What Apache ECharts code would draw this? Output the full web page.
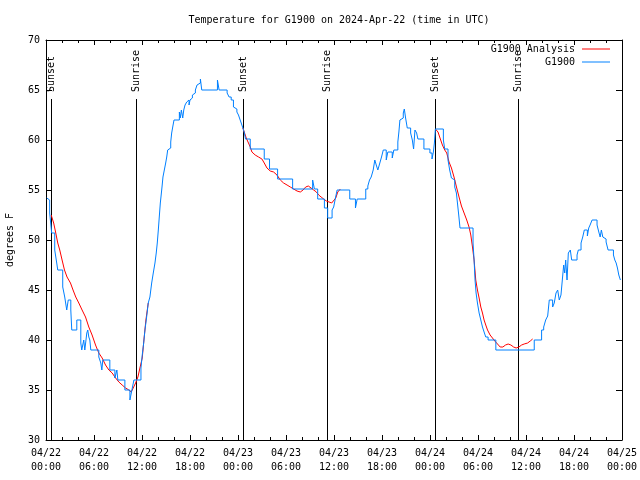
<!DOCTYPE html>
<html><head><meta charset="utf-8">
<script src="https://cdn.jsdelivr.net/npm/echarts@6/dist/echarts.min.js"></script>
<style>html,body{margin:0;padding:0;background:#fff}#c{width:640px;height:480px}</style>
</head><body><div id="c"></div>
<script>
// hours since 2024-04-22 00:00 UTC
var xTickLabels = ['04/22\n00:00','04/22\n06:00','04/22\n12:00','04/22\n18:00','04/23\n00:00','04/23\n06:00','04/23\n12:00','04/23\n18:00','04/24\n00:00','04/24\n06:00','04/24\n12:00','04/24\n18:00','04/25\n00:00'];
var sunHours = [0.63, 11.2, 24.58, 35.1, 48.62, 59.05];
var sunLabels = ['Sunset','Sunrise','Sunset','Sunrise','Sunset','Sunrise'];

var obsHours = [0.1,0.25,0.46,0.71,1.09,1.34,1.47,2.09,2.34,2.59,2.78,3.10,3.22,3.85,4.35,4.47,4.72,4.85,5.10,5.22,5.35,5.48,5.60,6.60,6.85,6.98,7.10,7.98,8.61,8.86,8.98,9.86,10.49,10.74,10.99,11.87,12.03,12.21,12.37,12.58,12.78,12.99,13.21,13.41,13.62,13.78,13.91,14.04,14.16,14.29,14.37,14.50,14.62,14.79,14.96,15.09,15.21,15.38,15.59,15.71,15.84,16.00,16.67,16.79,16.92,17.09,17.22,17.38,17.59,17.72,17.88,18.0,18.13,18.30,18.55,18.67,18.88,19.10,19.30,19.47,21.43,21.64,22.64,22.89,23.15,23.43,23.65,23.86,24.06,24.27,24.40,24.61,24.77,24.94,25.53,27.28,27.94,28.95,30.83,33.33,33.55,33.96,34.80,35.21,35.76,35.96,36.18,36.39,37.97,38.68,38.90,39.97,40.23,40.44,40.65,40.90,41.10,41.28,41.48,41.73,41.94,42.16,42.53,42.73,43.28,43.48,43.98,44.11,44.24,44.49,44.66,44.79,44.95,45.16,45.58,45.79,45.95,46.12,46.33,46.49,47.24,47.99,48.25,48.42,48.55,48.67,49.67,49.84,50.25,50.46,50.68,50.93,51.09,51.30,51.43,51.59,51.75,53.38,53.51,53.63,53.76,53.93,54.14,54.35,54.56,54.76,54.97,55.26,56.23,61.03,61.95,62.21,62.46,62.71,62.91,63.33,63.53,63.75,63.96,64.16,64.37,64.54,64.71,64.84,64.96,65.13,65.29,65.54,65.71,66.38,66.54,66.88,67.09,67.29,67.67,67.84,68.01,68.26,68.88,69.10,69.27,69.42,69.60,69.80,70.01,70.26,70.93,71.10,71.27,71.43,71.60,71.80];
var obsTemps = [54.2,54,52.7,50.7,49,47.7,47,45.3,44.3,43,44,43,41,42,39.7,39,40,39,40.7,41,40.3,40,39,38.3,37.7,37,38,37,36.2,37,36,35,34,35,36,37.2,38.5,39.7,41,42.3,43.7,44.3,45.7,46.7,47.7,48.7,49.7,51,52.3,53.7,54.3,55.3,56.3,57,57.7,58.3,59,59.2,59.8,60.7,61.3,62,62.8,62.2,63,62.2,63,63.5,63.8,64,63.5,64,64.2,64.5,64.7,65,65.5,65.7,66.1,65,66,65,64.7,64.3,64,63.3,63.1,62.8,62.5,62,61.7,61.2,60.8,60.1,59.1,58.1,57.1,56.1,55.1,56,55.1,54.1,53.2,52.2,53,53.3,54.2,55,54.1,53.2,54.1,55.1,55.4,56,56.3,57,58,57.5,57,57.7,58.3,59,58,58.8,58.2,59,59.8,60.8,62,62.2,62.7,63.1,62.2,61.2,60.7,60,59.1,61,60.7,60.1,59.1,58.7,58.1,58.8,59.7,61.1,60,59.1,58,57,56.2,56,55.3,54.7,53.7,52.5,51.2,49.7,48,46,44.7,43.7,42.7,42,41.3,40.8,40.3,40,39,40,41,41.3,42,42.4,44,43.3,43.7,44.7,45,44,44.5,46,47.5,46.7,48,46,48.7,49,48,48.5,49,49.7,50.3,51,50.4,51.2,51.5,52,51.5,50.8,50.3,51,50.3,50.1,49.8,49,48.5,48,47.7,47.2,46.5,46];

// analysis: three night-time segments separated by null
var anaHours = [0.65,0.96,1.22,1.47,1.72,2.01,2.31,2.63,3.06,3.38,3.72,4.10,4.51,4.94,5.35,5.76,6.19,6.60,7.02,7.44,7.86,8.27,8.70,9.11,9.52,9.95,10.36,10.65,10.90,11.20,11.49,11.74,12.03,12.24,12.49,12.78,
  null,
  24.61,24.86,25.03,25.31,25.53,25.74,26.15,26.57,26.99,27.28,27.62,28.03,28.45,28.87,29.29,29.70,30.13,30.54,30.95,31.38,31.79,32.13,32.46,32.79,33.13,33.46,33.80,34.09,34.39,34.71,35.05,35.39,35.71,35.96,36.22,36.47,36.80,
  null,
  48.67,49.00,49.25,49.55,49.84,50.09,50.38,50.68,51.00,51.34,51.63,51.93,52.26,52.59,52.88,53.10,53.31,53.51,53.72,53.93,54.14,54.35,54.56,54.76,54.97,55.19,55.51,55.81,56.10,56.44,56.77,57.11,57.44,57.77,58.11,58.45,58.77,59.11,59.45,59.77,60.20,60.53,60.83];
var anaTemps = [52.5,51.7,50.7,49.7,49,48,47,46.3,45.7,45,44.3,43.7,43,42.3,41.3,40.5,39.5,38.7,38.2,37.5,37,36.7,36.2,35.8,35.5,35.2,35,34.8,35.2,35.7,36.3,37.2,38.2,40,42,43.7,
  null,
  61.2,60.6,60.2,59.7,59.3,58.8,58.5,58.3,58.1,57.7,57.2,56.9,56.8,56.5,56,55.7,55.5,55.3,55.1,54.9,54.8,55,55.3,55.4,55.2,55,54.8,54.5,54.3,54.1,53.9,53.8,53.7,53.6,54.2,54.8,55.1,
  null,
  61.1,60.8,60.2,59.5,59,58.7,57.8,57.2,56.3,55.2,54.3,53.4,52.7,52,51.3,50.5,49.3,48,46,45,44.2,43.3,42.7,42,41.5,41,40.5,40.2,39.9,39.6,39.3,39.3,39.5,39.6,39.5,39.3,39.2,39.3,39.5,39.6,39.7,39.9,40.1];

var FONT = 'DejaVu Sans Mono';
var obsData = obsHours.map(function(h,i){return [h, obsTemps[i]];});
var anaData = anaHours.map(function(h,i){return h===null ? ['-','-'] : [h, anaTemps[i]];});
var sunData = sunHours.map(function(h){return [h, 30];});

var chart = echarts.init(document.getElementById('c'), null, {renderer:'canvas'});
var axisCommon = {
  axisLine:{show:true, onZero:false, lineStyle:{color:'#000', width:1}},
  splitLine:{show:false}
};
var legendCommon = {align:'right', itemWidth:28, itemHeight:1, icon:'rect', selectedMode:false, padding:0,
  textStyle:{fontFamily:FONT, fontSize:10, color:'#000', padding:[0,2,0,0]}};
chart.setOption({
  animation:false,
  backgroundColor:'#fff',
  title:{text:'Temperature for G1900 on 2024-Apr-22 (time in UTC)', left:334, top:10, textAlign:'center',
    textStyle:{fontFamily:FONT, fontSize:10, fontWeight:'normal', color:'#000'}},
  grid:{left:46, right:18, top:40, bottom:40, show:false, containLabel:false, outerBoundsMode:'none'},
  legend:[
    Object.assign({data:['G1900 Analysis'], right:30, top:44}, legendCommon),
    Object.assign({data:['G1900'], right:30, top:57}, legendCommon)
  ],
  xAxis:[
    Object.assign({type:'value', min:0, max:72, interval:6, position:'bottom',
      axisTick:{show:true, inside:true, length:5, lineStyle:{color:'#000'}},
      minorTick:{show:true, splitNumber:3, length:3, lineStyle:{color:'#000'}},
      axisLabel:{fontFamily:FONT, fontSize:10, color:'#000', lineHeight:14, margin:6,
        formatter:function(v){return xTickLabels[Math.round(v/6)];}}}, axisCommon),
    Object.assign({type:'value', min:0, max:72, interval:6, position:'top', gridIndex:0,
      axisTick:{show:true, inside:true, length:5, lineStyle:{color:'#000'}},
      minorTick:{show:true, splitNumber:3, length:3, lineStyle:{color:'#000'}},
      axisLabel:{show:false}}, axisCommon)
  ],
  yAxis:[
    Object.assign({type:'value', min:30, max:70, interval:5, position:'left',
      name:'degrees F', nameLocation:'middle', nameRotate:90, nameGap:31,
      nameTextStyle:{fontFamily:FONT, fontSize:10, color:'#000'},
      axisTick:{show:true, inside:true, length:6, lineStyle:{color:'#000'}},
      axisLabel:{fontFamily:FONT, fontSize:10, color:'#000', margin:6}}, axisCommon),
    Object.assign({type:'value', min:30, max:70, interval:5, position:'right',
      axisTick:{show:true, inside:true, length:6, lineStyle:{color:'#000'}},
      axisLabel:{show:false}}, axisCommon)
  ],
  series:[
    {type:'custom', name:'sun', data:sunData, encode:{x:0, y:1}, z:1, silent:true,
      renderItem:function(params, api){
        var t = api.value(0);
        var p0 = api.coord([t, 30]);
        var p1 = api.coord([t, 64.1]);
        var p2 = api.coord([t, 64.8]);
        var x = Math.round(p0[0]) + 0.5;
        return {type:'group', children:[
          {type:'line', shape:{x1:x, y1:p0[1], x2:x, y2:p1[1]}, style:{stroke:'#000', lineWidth:1}},
          {type:'text', x:x, y:p2[1], rotation:Math.PI/2,
            style:{text:sunLabels[params.dataIndex], align:'left', verticalAlign:'middle',
              font:'10px "' + FONT + '"', fill:'#000'}}
        ]};
      }},
    {type:'line', name:'G1900 Analysis', data:anaData, symbol:'none', connectNulls:false, z:3,
      lineStyle:{color:'#ff0000', width:1}, itemStyle:{color:'#ff0000'}},
    {type:'line', name:'G1900', data:obsData, symbol:'none', step:'end', z:4,
      lineStyle:{color:'#0080ff', width:1}, itemStyle:{color:'#0080ff'}}
  ]
});
</script></body></html>
